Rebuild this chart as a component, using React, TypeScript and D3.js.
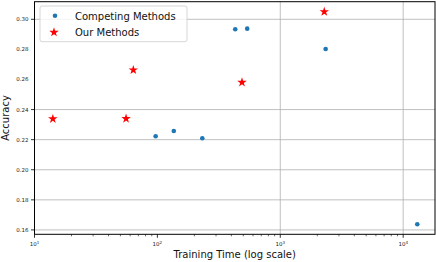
import React, { useRef, useEffect } from "react";
import * as d3 from "d3";

// training time (s) and accuracy
const competingTime = [96.8, 136, 232, 430, 538, 2339, 13030];
const competingAcc = [0.2223, 0.2258, 0.2209, 0.2934, 0.2938, 0.2803, 0.1638];
const oursTime = [14.1, 55.6, 63.7, 488, 2280];
const oursAcc = [0.2338, 0.234, 0.2663, 0.2581, 0.305];

const yTicks = [0.16, 0.18, 0.2, 0.22, 0.24, 0.26, 0.28, 0.3];
const yGrid = [0.16, 0.18, 0.2, 0.22, 0.24, 0.3];
const xTicks = [1e1, 1e2, 1e3, 1e4];
const xGrid = [1e3, 1e4];
const xTickExp = ["1", "2", "3", "4"];
const legendLabels = ["Competing Methods", "Our Methods"];

export default function App() {
  const ref = useRef<SVGSVGElement>(null);

  const width = 436;
  const height = 262;
  const left = 34.5;
  const right = 435;
  const top = 1.7;
  const bottom = 234.3;

  const x = d3.scaleLog().domain([10, Math.pow(10, 4.259)]).range([left, right]);
  const y = d3.scaleLinear().domain([0.1571, 0.3117]).range([bottom, top]);

  useEffect(() => {
    const vis = d3.select(ref.current);
    vis.selectAll("*").remove();
    const font = "DejaVu Sans, sans-serif";

    // grid
    vis
      .append("g")
      .selectAll("line")
      .data(yGrid)
      .join("line")
      .attr("x1", left)
      .attr("x2", right)
      .attr("y1", (d) => y(d))
      .attr("y2", (d) => y(d))
      .attr("stroke", "#b0b0b0")
      .attr("stroke-width", 0.8);
    vis
      .append("g")
      .selectAll("line")
      .data(xGrid)
      .join("line")
      .attr("x1", (d) => x(d))
      .attr("x2", (d) => x(d))
      .attr("y1", top)
      .attr("y2", bottom)
      .attr("stroke", "#b0b0b0")
      .attr("stroke-width", 0.8);

    // y ticks
    vis
      .append("g")
      .selectAll("line")
      .data(yGrid)
      .join("line")
      .attr("x1", left - 3.5)
      .attr("x2", left)
      .attr("y1", (d) => y(d))
      .attr("y2", (d) => y(d))
      .attr("stroke", "#000")
      .attr("stroke-width", 0.8);
    vis
      .append("g")
      .selectAll("text")
      .data(yTicks)
      .join("text")
      .attr("x", left - 6)
      .attr("y", (d) => y(d) + 2)
      .attr("text-anchor", "end")
      .attr("font-family", font)
      .attr("font-size", 5.5)
      .attr("fill", "#222")
      .text((d) => d3.format(".2f")(d));

    // x ticks, major and minor
    const minor: number[] = [];
    for (let e = 1; e <= 4; e++)
      for (let m = 2; m <= 9; m++) {
        const v = m * Math.pow(10, e);
        if (x(v) <= right) minor.push(v);
      }
    vis
      .append("g")
      .selectAll("line")
      .data(minor)
      .join("line")
      .attr("x1", (d) => x(d))
      .attr("x2", (d) => x(d))
      .attr("y1", bottom)
      .attr("y2", bottom + 2)
      .attr("stroke", "#000")
      .attr("stroke-width", 0.6);
    vis
      .append("g")
      .selectAll("line")
      .data(xTicks)
      .join("line")
      .attr("x1", (d) => x(d))
      .attr("x2", (d) => x(d))
      .attr("y1", bottom)
      .attr("y2", bottom + 3.5)
      .attr("stroke", "#000")
      .attr("stroke-width", 0.8);
    const xl = vis
      .append("g")
      .selectAll("text")
      .data(xTicks)
      .join("text")
      .attr("x", (d) => x(d))
      .attr("y", bottom + 12)
      .attr("text-anchor", "middle")
      .attr("font-family", font)
      .attr("font-size", 5.5)
      .attr("fill", "#222");
    xl.append("tspan").text("10");
    xl.append("tspan")
      .attr("dy", -2.5)
      .attr("font-size", 4)
      .text((d, i) => xTickExp[i]);

    // frame
    vis
      .append("rect")
      .attr("x", left)
      .attr("y", top)
      .attr("width", right - left)
      .attr("height", bottom - top)
      .attr("fill", "none")
      .attr("stroke", "#000")
      .attr("stroke-width", 1);

    // points
    vis
      .append("g")
      .selectAll("circle")
      .data(competingTime)
      .join("circle")
      .attr("cx", (d) => x(d))
      .attr("cy", (d, i) => y(competingAcc[i]))
      .attr("r", 2.3)
      .attr("fill", "#1f77b4");

    const star = d3.symbol().type(d3.symbolStar).size(28);
    vis
      .append("g")
      .selectAll("path")
      .data(oursTime)
      .join("path")
      .attr("d", star)
      .attr("transform", (d, i) => `translate(${x(d)},${y(oursAcc[i])})`)
      .attr("fill", "red");

    // legend
    const lg = vis.append("g");
    lg.append("rect")
      .attr("x", 40)
      .attr("y", 6)
      .attr("width", 147)
      .attr("height", 35.7)
      .attr("rx", 2)
      .attr("fill", "white")
      .attr("fill-opacity", 0.8)
      .attr("stroke", "#ccc")
      .attr("stroke-width", 0.8);
    lg.append("circle").attr("cx", 55).attr("cy", 15.7).attr("r", 2.3).attr("fill", "#1f77b4");
    lg.append("path")
      .attr("d", star)
      .attr("transform", "translate(54,32.3)")
      .attr("fill", "red");
    lg.selectAll("text")
      .data(legendLabels)
      .join("text")
      .attr("x", 75)
      .attr("y", (d, i) => 19.5 + i * 16)
      .attr("font-family", font)
      .attr("font-size", 10)
      .attr("fill", "#111")
      .text((d) => d);

    // axis labels
    vis
      .append("text")
      .attr("x", (left + right) / 2)
      .attr("y", 258)
      .attr("text-anchor", "middle")
      .attr("font-family", font)
      .attr("font-size", 10)
      .attr("fill", "#111")
      .text("Training Time (log scale)");
    vis
      .append("text")
      .attr("transform", `translate(9,${(top + bottom) / 2}) rotate(-90)`)
      .attr("text-anchor", "middle")
      .attr("font-family", font)
      .attr("font-size", 10)
      .attr("fill", "#111")
      .text("Accuracy");
  }, []);

  return (
    <svg
      width={width}
      height={height}
      ref={ref}
      style={{ position: "absolute", left: 0, top: 0, background: "white" }}
    ></svg>
  );
}
